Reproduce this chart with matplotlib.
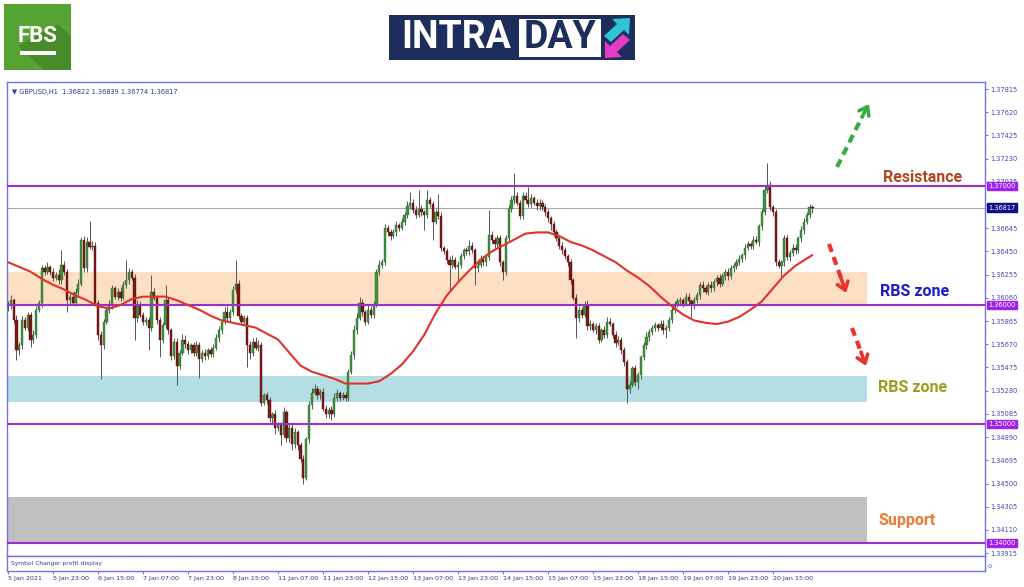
import numpy as np
import matplotlib
matplotlib.use('Agg')
import matplotlib.pyplot as plt
import matplotlib.transforms as mtransforms
from matplotlib.patches import Rectangle, Polygon

# ─────────────────────────────────────────────
#  Data (GBPUSD H1, prices in pips above 1.3500)
# ─────────────────────────────────────────────

BASE = 1.3500
first_open = 98

close_pips = [
    100, 104, 87, 62, 66, 87, 81, 92, 71, 75,
    96, 102, 131, 128, 132, 128, 123, 125, 121, 134,
    128, 104, 107, 102, 111, 118, 155, 131, 153, 149,
    150, 102, 75, 66, 86, 96, 100, 114, 107, 111,
    106, 117, 121, 128, 123, 89, 100, 92, 86, 87,
    81, 111, 106, 87, 71, 83, 104, 79, 57, 69,
    49, 60, 71, 67, 62, 66, 60, 66, 55, 60,
    57, 62, 59, 64, 72, 79, 86, 94, 89, 94,
    113, 118, 91, 86, 89, 66, 60, 69, 64, 66,
    18, 24, 20, 5, 8, -3, -1, -9, 10, -12,
    -3, -17, -7, -18, -29, -45, -13, 16, 26, 29,
    24, 27, 13, 8, 12, 8, 22, 26, 22, 24,
    22, 44, 58, 79, 89, 102, 94, 86, 96, 92,
    100, 128, 134, 136, 165, 161, 158, 161, 167, 165,
    170, 176, 183, 186, 180, 176, 181, 178, 176, 188,
    185, 170, 178, 175, 148, 145, 138, 134, 138, 132,
    134, 141, 146, 145, 150, 146, 131, 134, 139, 136,
    140, 159, 155, 151, 156, 136, 128, 156, 181, 188,
    192, 186, 175, 192, 188, 185, 190, 186, 183, 186,
    182, 178, 173, 168, 161, 156, 150, 146, 141, 136,
    121, 106, 89, 96, 92, 100, 82, 84, 79, 82,
    71, 79, 75, 86, 84, 75, 68, 71, 62, 52,
    29, 33, 47, 35, 41, 56, 66, 73, 77, 81,
    83, 81, 84, 79, 81, 87, 96, 101, 103, 104,
    101, 107, 103, 100, 104, 108, 117, 114, 111, 117,
    114, 119, 123, 118, 124, 128, 124, 131, 133, 136,
    139, 142, 148, 151, 150, 155, 153, 166, 178, 197,
    201, 182, 178, 136, 133, 136, 156, 140, 144, 148,
    146, 156, 163, 170, 176, 182.2, 181.7,
]

wick_up = [
    3, 4, 2, 5, 3, 4, 3, 2, 2, 4,
    3, 2, 3, 3, 4, 2, 3, 3, 5, 12,
    3, 2, 3, 4, 3, 4, 2, 3, 4, 18,
    4, 3, 2, 3, 2, 3, 4, 3, 2, 3,
    4, 3, 17, 3, 2, 3, 4, 3, 2, 3,
    3, 14, 3, 2, 3, 3, 13, 3, 2, 3,
    3, 2, 5, 4, 3, 2, 3, 4, 3, 2,
    3, 2, 3, 3, 4, 3, 2, 4, 5, 3,
    3, 20, 3, 2, 3, 3, 4, 3, 4, 5,
    3, 2, 3, 3, 2, 4, 3, 3, 4, 2,
    3, 3, 4, 2, 3, 3, 2, 3, 4, 5,
    3, 2, 3, 3, 2, 3, 4, 3, 2, 3,
    3, 2, 3, 4, 4, 5, 3, 2, 4, 3,
    3, 2, 4, 3, 3, 2, 3, 3, 4, 2,
    3, 2, 4, 9, 3, 3, 16, 3, 2, 9,
    3, 2, 3, 15, 3, 2, 3, 3, 4, 2,
    3, 3, 2, 3, 5, 3, 2, 3, 3, 2,
    3, 21, 3, 2, 3, 3, 2, 3, 3, 4,
    19, 3, 2, 3, 3, 11, 3, 2, 3, 3,
    2, 3, 3, 2, 3, 3, 2, 3, 3, 2,
    3, 2, 3, 3, 2, 3, 4, 3, 2, 3,
    3, 2, 3, 4, 3, 2, 3, 3, 2, 3,
    3, 3, 2, 3, 3, 2, 3, 4, 3, 2,
    3, 2, 3, 3, 2, 3, 3, 2, 3, 3,
    2, 3, 3, 2, 3, 3, 2, 3, 3, 2,
    3, 3, 2, 3, 3, 2, 3, 3, 2, 3,
    3, 2, 3, 3, 2, 3, 3, 2, 3, 4,
    18, 3, 2, 3, 3, 2, 3, 3, 2, 3,
    3, 2, 3, 3, 2, 3, 1.7,
]

wick_dn = [
    3, 3, 2, 8, 4, 3, 2, 3, 6, 3,
    3, 2, 4, 3, 2, 3, 3, 2, 3, 3,
    3, 10, 3, 2, 3, 3, 2, 3, 3, 2,
    3, 3, 4, 28, 3, 2, 3, 3, 2, 3,
    3, 2, 3, 3, 2, 18, 3, 2, 3, 3,
    19, 3, 2, 3, 15, 3, 2, 3, 3, 2,
    16, 3, 2, 3, 3, 2, 3, 3, 16, 3,
    3, 2, 3, 3, 2, 3, 3, 2, 3, 3,
    2, 3, 3, 2, 3, 18, 5, 3, 2, 3,
    3, 2, 3, 3, 4, 5, 3, 9, 2, 3,
    3, 5, 3, 4, 3, 5, 2, 3, 3, 2,
    3, 3, 2, 3, 3, 5, 2, 3, 3, 2,
    3, 3, 2, 3, 3, 2, 3, 3, 2, 3,
    3, 2, 3, 3, 2, 3, 3, 2, 3, 3,
    2, 3, 3, 2, 3, 3, 2, 3, 13, 3,
    3, 15, 2, 3, 3, 2, 3, 21, 3, 2,
    13, 3, 2, 3, 3, 2, 14, 3, 2, 3,
    3, 2, 3, 3, 2, 3, 7, 3, 2, 3,
    3, 2, 3, 3, 2, 3, 3, 2, 3, 3,
    2, 3, 3, 5, 3, 2, 3, 3, 2, 3,
    3, 2, 17, 3, 3, 2, 3, 3, 2, 3,
    3, 2, 3, 3, 2, 3, 3, 2, 3, 3,
    11, 3, 2, 3, 6, 3, 2, 3, 3, 2,
    3, 3, 2, 3, 7, 3, 2, 3, 3, 2,
    3, 2, 3, 10, 3, 2, 3, 3, 2, 3,
    3, 2, 3, 3, 2, 3, 3, 2, 3, 3,
    2, 3, 3, 2, 3, 3, 2, 3, 3, 2,
    3, 2, 3, 3, 2, 10, 3, 2, 3, 3,
    3, 2, 3, 3, 2, 3, 4.3,
]

# moving average, read at every 4th bar
ma_bars = [0, 4, 8, 12, 16, 20, 24, 28, 32, 36, 40, 44, 48, 52, 56, 60, 64,
           68, 72, 76, 80, 84, 88, 92, 96, 100, 104, 108, 112, 116, 120, 124,
           128, 132, 136, 140, 144, 148, 152, 156, 160, 164, 168, 172, 176,
           180, 184, 188, 192, 196, 200, 204, 208, 212, 216, 220, 224, 228,
           232, 236, 240, 244, 248, 252, 256, 260, 264, 268, 272, 276, 280,
           284, 286]
ma_pips = [136, 132, 128, 122, 117, 113, 108, 104, 99, 97, 100, 105, 107, 107,
           107, 104, 100, 96, 91, 87, 85, 83, 81, 76, 71, 60, 49, 44, 41, 38,
           34, 34, 34, 36, 42, 50, 61, 75, 93, 108, 119, 129, 138, 145, 150,
           155, 160, 161, 161, 158, 153, 150, 146, 141, 136, 129, 123, 116,
           107, 99, 92, 87, 85, 84, 86, 90, 96, 103, 114, 125, 133, 139, 142]

x_tick_bars = [0, 16, 32, 48, 64, 80, 96, 112, 128, 144, 160, 176, 192, 208,
               224, 240, 256, 272]
x_tick_labels = ["5 Jan 2021", "5 Jan 23:00", "6 Jan 15:00", "7 Jan 07:00",
                 "7 Jan 23:00", "8 Jan 15:00", "11 Jan 07:00", "11 Jan 23:00",
                 "12 Jan 15:00", "13 Jan 07:00", "13 Jan 23:00", "14 Jan 15:00",
                 "15 Jan 07:00", "15 Jan 23:00", "18 Jan 15:00", "19 Jan 07:00",
                 "19 Jan 23:00", "20 Jan 15:00"]

y_ticks = [1.33915, 1.34110, 1.34305, 1.34500, 1.34695, 1.34890, 1.35085,
           1.35280, 1.35475, 1.35670, 1.35865, 1.36060, 1.36255, 1.36450,
           1.36645, 1.36840, 1.37035, 1.37230, 1.37425, 1.37620, 1.37815]

levels = [1.37000, 1.36000, 1.35000, 1.34000]
last_price = 1.36817

zone_peach = (1.36000, 1.36277)
zone_blue = (1.35185, 1.35403)
zone_gray = (1.34000, 1.34387)

header = "\u25bc GBPUSD,H1  1.36822 1.36839 1.36774 1.36817"

# ─────────────────────────────────────────────
#  Colours
# ─────────────────────────────────────────────

FRAME = '#7272E4'
TICKTXT = '#4545B5'
PURPLE = '#9B30D0'
TAG = '#A020F0'
NAVY = '#10108A'
BULL = '#3F903F'
BEAR = '#7A1717'

# ─────────────────────────────────────────────
#  Figure / axes
# ─────────────────────────────────────────────

W, H = 1024, 587
fig = plt.figure(figsize=(W / 100, H / 100), dpi=100)
fig.patch.set_facecolor('white')

def box(x0, y0, x1, y1):
    return [x0 / W, 1 - y1 / H, (x1 - x0) / W, (y1 - y0) / H]

ax = fig.add_axes(box(7, 82, 985, 556))
sub = fig.add_axes(box(7, 556, 985, 571))

px_per_bar = 2.8125
xlim = ((7 - 8) / px_per_bar, (985 - 8) / px_per_bar)
ylim = (1.37 - 370 / 11900, 1.37 + 104 / 11900)

c = BASE + np.array(close_pips) / 1e4
o = np.r_[BASE + first_open / 1e4, c[:-1]]
hi = np.maximum(o, c) + np.array(wick_up) / 1e4
lo = np.minimum(o, c) - np.array(wick_dn) / 1e4
idx = np.arange(len(c))
bull = c >= o
body = np.maximum(np.abs(c - o), 0.00005)
bottom = np.minimum(o, c)

# zones
zone_end = (867 - 7) / 978
ax.axhspan(*zone_peach, xmin=0, xmax=zone_end, color='#FDE0C3', lw=0, zorder=1)
ax.axhspan(*zone_blue, xmin=0, xmax=zone_end, color='#B2DEE4', lw=0, zorder=1)
ax.axhspan(*zone_gray, xmin=0, xmax=zone_end, color='#C0C0C0', lw=0, zorder=1)

# candles
ax.vlines(idx, lo, hi, color='#555555', lw=0.7, zorder=3)
ax.bar(idx[bull], body[bull], bottom=bottom[bull], width=0.8, color=BULL,
       edgecolor='#2C6A2C', lw=0.3, zorder=4)
ax.bar(idx[~bull], body[~bull], bottom=bottom[~bull], width=0.8, color=BEAR,
       edgecolor='#5A0E0E', lw=0.3, zorder=4)

# moving average
ax.plot(ma_bars, BASE + np.array(ma_pips) / 1e4, color='#E0322C', lw=1.5,
        zorder=6, solid_capstyle='round', solid_joinstyle='round')

# levels
for lv in levels:
    ax.axhline(lv, color=PURPLE, lw=1.5, zorder=5)
ax.axhline(last_price, color='#A6A6A6', lw=0.8, zorder=2)

ax.set_xlim(*xlim)
ax.set_ylim(*ylim)
ax.set_xticks([])
ax.yaxis.tick_right()
ax.set_yticks(y_ticks)
ax.set_yticklabels([f'{v:.5f}' for v in y_ticks])
ax.tick_params(axis='y', direction='out', length=2.2, width=0.7, color=FRAME,
               labelsize=4.8, labelcolor=TICKTXT, pad=1.5)
for s in ax.spines.values():
    s.set_color(FRAME)
    s.set_linewidth(1.0)

# price tags on the right axis
tr = mtransforms.blended_transform_factory(ax.transAxes, ax.transData)
for lv in levels:
    ax.text(1.0035, lv, f'{lv:.5f}', transform=tr, fontsize=4.8, color='white',
            va='center', ha='left', zorder=8, clip_on=False,
            bbox=dict(boxstyle='square,pad=0.2', fc=TAG, ec=TAG))
ax.text(1.0035, last_price, f'{last_price:.5f}', transform=tr, fontsize=4.8,
        color='white', va='center', ha='left', zorder=8, clip_on=False,
        bbox=dict(boxstyle='square,pad=0.2', fc=NAVY, ec=NAVY))

ax.text(0.005, 0.985, header, transform=ax.transAxes, fontsize=4.8,
        color='#35359C', va='top', ha='left')

# sub window + time axis
sub.set_xlim(*xlim)
sub.set_ylim(0, 1)
sub.set_yticks([])
sub.set_xticks(x_tick_bars)
sub.set_xticklabels(x_tick_labels)
sub.tick_params(axis='x', direction='out', length=2.2, width=0.7, color=FRAME,
                labelsize=4.6, labelcolor='#33337A', pad=1.2)
for lab in sub.get_xticklabels():
    lab.set_ha('left')
for s in sub.spines.values():
    s.set_color(FRAME)
    s.set_linewidth(1.0)
sub.text(0.004, 0.5, 'Symbol Changer profit display', transform=sub.transAxes,
         fontsize=4.3, color='#3A3A9A', va='center', ha='left')
fig.text(989 / W, 1 - 565 / H, '0', fontsize=4.5, color=TICKTXT, va='center',
         rotation=90)

# ─────────────────────────────────────────────
#  Overlay: labels, arrows, logos (pixel coords)
# ─────────────────────────────────────────────

ov = fig.add_axes([0, 0, 1, 1], zorder=10)
ov.set_xlim(0, W)
ov.set_ylim(H, 0)
ov.axis('off')
ov.patch.set_alpha(0)

LBL = dict(fontsize=11.5, fontweight='bold', family=['Roboto', 'DejaVu Sans'],
           ha='center', va='center')
ov.text(923, 177, 'Resistance', color='#B4461C', **LBL)
ov.text(915, 292, 'RBS zone', color='#1E1EC6', **LBL)
ov.text(913, 388, 'RBS zone', color='#9C9C1E', **LBL)
ov.text(907, 521, 'Support', color='#F07A32', **LBL)

def dashed_arrow(x0, y0, x1, y1, tip, col):
    ov.plot([x0, x1], [y0, y1], color=col, lw=3, ls=(0, (2.0, 1.3)),
            solid_capstyle='butt')
    ov.annotate('', xy=tip, xytext=(x1, y1),
                arrowprops=dict(arrowstyle='->,head_length=0.55,head_width=0.4',
                                color=col, lw=2.6, shrinkA=0, shrinkB=0))

dashed_arrow(837, 167, 862, 117, (869, 104), '#3DAA45')
dashed_arrow(829, 244, 841, 278, (846, 293), '#E8332E')
dashed_arrow(852, 328, 861, 352, (866, 366), '#E8332E')

# FBS logo
ov.add_patch(Rectangle((4, 4), 67, 66, color='#56A232', lw=0))
ov.add_patch(Polygon([(18, 46), (58, 24), (71, 36), (71, 70), (44, 70)],
                     closed=True, color='#3E7E22', lw=0, alpha=0.6))
ov.text(38, 36, 'FBS', color='white', fontsize=16, fontweight='bold',
        family=['Roboto', 'DejaVu Sans'], ha='center', va='center')
ov.add_patch(Rectangle((20, 51), 36, 4, color='white', lw=0))

# INTRADAY logo
ov.add_patch(Rectangle((389, 15), 246, 45, color='#1D2E5C', lw=0))
ov.text(456, 38, 'INTRA', color='white', fontsize=27, fontweight='bold',
        family=['Roboto', 'DejaVu Sans'], ha='center', va='center')
ov.add_patch(Rectangle((519, 19), 82, 38, color='white', lw=0))
ov.text(560, 38, 'DAY', color='#1D2E5C', fontsize=27, fontweight='bold',
        family=['Roboto', 'DejaVu Sans'], ha='center', va='center')
ov.add_patch(Polygon([(604, 36), (617, 24), (612, 19), (630, 18), (629, 35),
                      (624, 30), (611, 42)], closed=True, color='#2FC3D8', lw=0))
ov.add_patch(Polygon([(630, 40), (617, 52), (622, 57), (605, 58), (605, 41),
                      (610, 46), (623, 34)], closed=True, color='#E23CC4', lw=0))

fig.savefig('out.png', dpi=100, facecolor='white')
